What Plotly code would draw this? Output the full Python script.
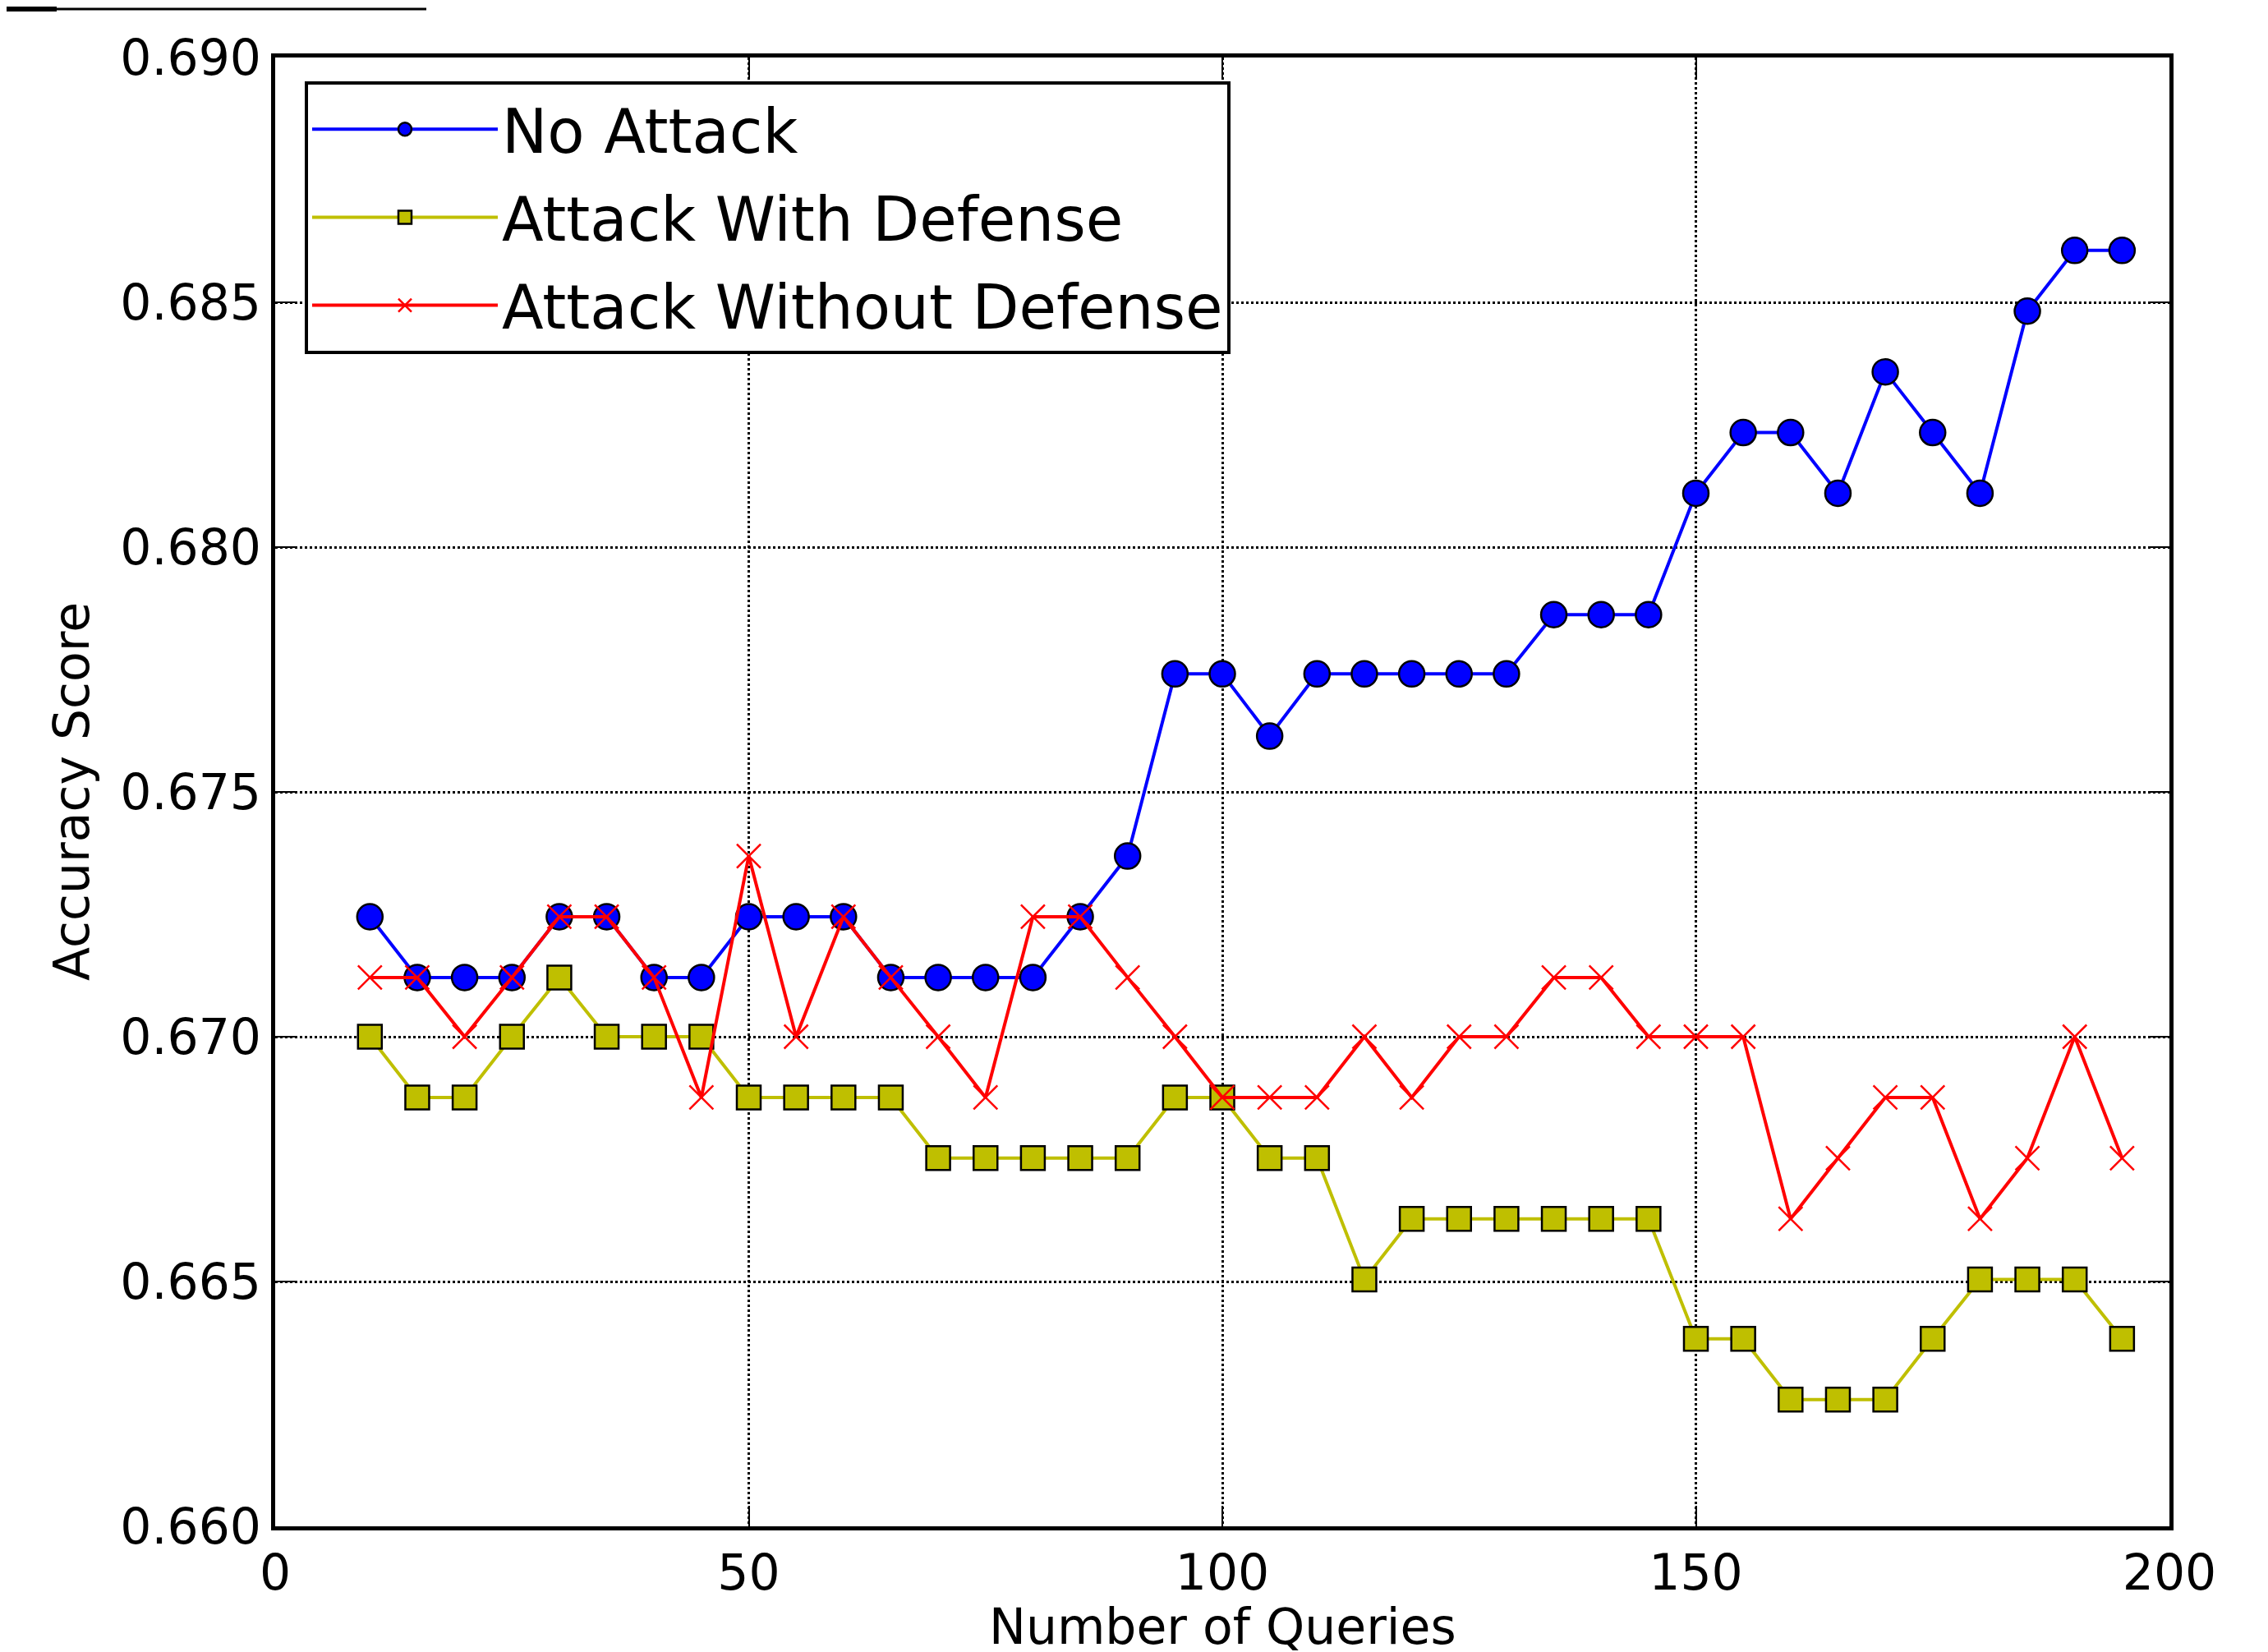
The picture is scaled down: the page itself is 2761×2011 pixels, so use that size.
import plotly.graph_objects as go

queries = list(range(10, 200, 5))

no_attack = [0.67245, 0.67121, 0.67121, 0.67121, 0.67245, 0.67245, 0.67121, 0.67121,
             0.67245, 0.67245, 0.67245, 0.67121, 0.67121, 0.67121, 0.67121, 0.67245,
             0.67369, 0.67741, 0.67741, 0.67614, 0.67741, 0.67741, 0.67741, 0.67741,
             0.67741, 0.67862, 0.67862, 0.67862, 0.68110, 0.68234, 0.68234, 0.68110,
             0.68358, 0.68234, 0.68110, 0.68482, 0.68606, 0.68606]

attack_with_defense = [0.67000, 0.66876, 0.66876, 0.67000, 0.67121, 0.67000, 0.67000, 0.67000,
                       0.66876, 0.66876, 0.66876, 0.66876, 0.66752, 0.66752, 0.66752, 0.66752,
                       0.66752, 0.66876, 0.66876, 0.66752, 0.66752, 0.66504, 0.66628, 0.66628,
                       0.66628, 0.66628, 0.66628, 0.66628, 0.66383, 0.66383, 0.66259, 0.66259,
                       0.66259, 0.66383, 0.66504, 0.66504, 0.66504, 0.66383]

attack_without_defense = [0.67121, 0.67121, 0.67000, 0.67121, 0.67245, 0.67245, 0.67121, 0.66876,
                          0.67369, 0.67000, 0.67245, 0.67121, 0.67000, 0.66876, 0.67245, 0.67245,
                          0.67121, 0.67000, 0.66876, 0.66876, 0.66876, 0.67000, 0.66876, 0.67000,
                          0.67000, 0.67121, 0.67121, 0.67000, 0.67000, 0.67000, 0.66628, 0.66752,
                          0.66876, 0.66876, 0.66628, 0.66752, 0.67000, 0.66752]

series_names = ["No Attack", "Attack With Defense", "Attack Without Defense"]
x_ticks = [0, 50, 100, 150, 200]
y_ticks = [0.660, 0.665, 0.670, 0.675, 0.680, 0.685, 0.690]
x_title = "Number of Queries"
y_title = "Accuracy Score"

FONT = "DejaVu Sans"

fig = go.Figure()
fig.add_trace(go.Scatter(
    x=queries, y=no_attack, name=series_names[0], mode="lines+markers", legendgroup="a",
    line=dict(color="#0000ff", width=4),
    marker=dict(symbol="circle", size=31, color="#0000ff", line=dict(color="black", width=2.5)),
))
fig.add_trace(go.Scatter(
    x=queries, y=attack_with_defense, name=series_names[1], mode="lines+markers", legendgroup="b",
    line=dict(color="#bfbf00", width=4),
    marker=dict(symbol="square", size=29, color="#bfbf00", line=dict(color="black", width=2.5)),
))
fig.add_trace(go.Scatter(
    x=queries, y=attack_without_defense, name=series_names[2], mode="lines+markers", legendgroup="c",
    line=dict(color="#ff0000", width=4),
    marker=dict(symbol="x-thin", size=29, color="#ff0000", line=dict(color="#ff0000", width=2.5)),
))

axis_common = dict(
    showline=True, linecolor="black", linewidth=5, mirror="ticks",
    ticks="inside", ticklen=25, tickwidth=2, tickcolor="black",
    showgrid=True, gridcolor="black", gridwidth=2.5, griddash="dot",
    zeroline=False, automargin=False,
    tickfont=dict(family=FONT, size=60, color="black"),
)

fig.update_xaxes(
    range=[0, 200], tickvals=x_ticks, ticktext=[str(v) for v in x_ticks],
    **axis_common,
)
fig.update_yaxes(
    range=[0.660, 0.690], tickvals=y_ticks, ticktext=[f"{v:.3f}" for v in y_ticks],
    **axis_common,
)

fig.add_annotation(
    text=x_title, xref="paper", yref="paper", x=0.5, y=-(2009 - 1850) / 1788,
    xanchor="center", yanchor="bottom", showarrow=False,
    font=dict(family=FONT, size=60, color="black"),
)
fig.add_annotation(
    text=y_title, xref="paper", yref="paper", x=(79 - 327) / 2306, y=0.5,
    xanchor="center", yanchor="middle", textangle=-90, showarrow=False,
    font=dict(family=FONT, size=60, color="black"),
)

fig.update_layout(
    width=2761, height=2011,
    margin=dict(l=327, r=128, t=62, b=161, autoexpand=False),
    paper_bgcolor="white", plot_bgcolor="white",
    font=dict(family=FONT, color="black"),
    showlegend=True,
    legend=dict(
        x=0.0156, y=0.984, xanchor="left", yanchor="top",
        bgcolor="white", bordercolor="black", borderwidth=4,
        font=dict(family=FONT, size=74, color="black"),
        itemwidth=226, itemsizing="trace", tracegroupgap=8,
    ),
    shapes=[
        dict(type="line", xref="paper", yref="paper",
             x0=-327 / 2306, x1=(511 - 327) / 2306, y0=(1850 - 3) / 1788, y1=(1850 - 3) / 1788,
             line=dict(color="black", width=3)),
        dict(type="line", xref="paper", yref="paper",
             x0=-327 / 2306, x1=(61 - 327) / 2306, y0=(1850 - 3) / 1788, y1=(1850 - 3) / 1788,
             line=dict(color="black", width=6)),
    ],
)

fig.write_html("out.html")
